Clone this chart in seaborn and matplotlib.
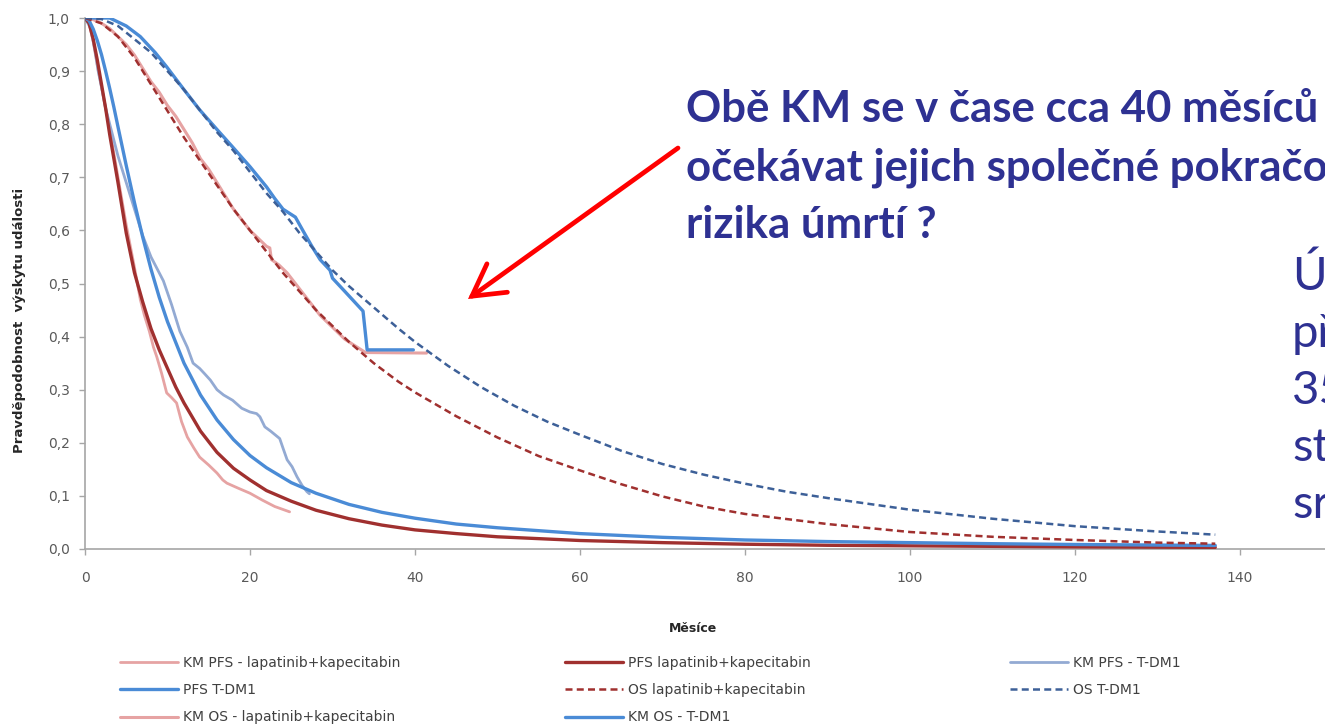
import matplotlib
matplotlib.use("Agg")
import matplotlib.pyplot as plt
import seaborn as sns
import pandas as pd

# ---- data (months, probability) ----
t_km_pfs_lap = [0, 0.5, 1, 1.5, 2, 2.5, 3, 3.5, 4, 4.5, 5, 5.5, 6, 6.7, 7.2, 7.8, 8.3, 8.7, 9.3, 9.9,
                10.5, 11.1, 11.7, 12.4, 13.2, 13.9, 15, 16, 16.7, 17.2, 18.5, 20, 21.5, 23, 24.8]
s_km_pfs_lap = [1, 0.99, 0.955, 0.91, 0.87, 0.83, 0.79, 0.745, 0.7, 0.655, 0.61, 0.57, 0.53, 0.47, 0.44,
                0.41, 0.38, 0.362, 0.33, 0.294, 0.285, 0.275, 0.24, 0.211, 0.19, 0.173, 0.158, 0.143,
                0.13, 0.124, 0.115, 0.105, 0.092, 0.08, 0.07]

t_pfs_lap = [0, 0.5, 1, 1.5, 2, 2.5, 3, 3.5, 4, 5, 6, 7, 8, 9, 10, 11, 12, 14, 16, 18, 20, 22, 25, 28,
             32, 36, 40, 45, 50, 60, 70, 80, 90, 100, 110, 120, 137]
s_pfs_lap = [1, 0.99, 0.96, 0.92, 0.875, 0.83, 0.78, 0.735, 0.69, 0.595, 0.52, 0.465, 0.415, 0.375,
             0.34, 0.305, 0.275, 0.222, 0.182, 0.152, 0.13, 0.11, 0.09, 0.073, 0.057, 0.045, 0.036,
             0.029, 0.023, 0.016, 0.012, 0.009, 0.007, 0.006, 0.005, 0.004, 0.003]

t_km_pfs_tdm1 = [0, 0.7, 1.2, 1.6, 2, 2.5, 3, 3.5, 4, 5, 6, 7, 8, 9, 9.5, 10.5, 11.5, 12.4, 13.1, 13.9,
                 14.5, 15.2, 16, 16.8, 17.9, 19, 20, 20.8, 21.2, 21.8, 22.5, 23.6, 24, 24.5, 25.1,
                 25.7, 26.3, 26.9, 27.2]
s_km_pfs_tdm1 = [1, 0.98, 0.94, 0.9, 0.87, 0.83, 0.8, 0.77, 0.74, 0.69, 0.64, 0.59, 0.55, 0.52, 0.505,
                 0.46, 0.41, 0.38, 0.35, 0.34, 0.33, 0.318, 0.3, 0.29, 0.28, 0.265, 0.258, 0.255,
                 0.249, 0.23, 0.222, 0.208, 0.19, 0.168, 0.155, 0.136, 0.12, 0.108, 0.104]

t_pfs_tdm1 = [0, 0.5, 1, 1.5, 2, 2.5, 3, 3.5, 4, 5, 6, 7, 8, 9, 10, 12, 14, 16, 18, 20, 22, 25, 28, 32,
              36, 40, 45, 50, 60, 70, 80, 90, 100, 110, 120, 137]
s_pfs_tdm1 = [1, 0.995, 0.979, 0.957, 0.931, 0.9, 0.867, 0.832, 0.795, 0.722, 0.652, 0.587, 0.527,
              0.474, 0.428, 0.35, 0.29, 0.243, 0.206, 0.176, 0.153, 0.125, 0.105, 0.084, 0.069, 0.058,
              0.047, 0.04, 0.029, 0.022, 0.017, 0.014, 0.012, 0.01, 0.0085, 0.0067]

t_os_lap = [0, 2, 4, 6, 8, 10, 12, 14, 16, 18, 20, 22, 24, 26, 28, 30, 32, 35, 38, 40, 45, 50, 55, 60,
            65, 70, 75, 80, 90, 100, 110, 120, 130, 137]
s_os_lap = [1, 0.99, 0.965, 0.925, 0.875, 0.825, 0.775, 0.73, 0.685, 0.64, 0.6, 0.56, 0.52, 0.485,
            0.45, 0.42, 0.39, 0.35, 0.315, 0.295, 0.25, 0.21, 0.175, 0.148, 0.122, 0.099, 0.08, 0.066,
            0.047, 0.032, 0.023, 0.017, 0.012, 0.01]

t_os_tdm1 = [0, 2, 4, 6, 8, 10, 12, 14, 16, 18, 20, 22, 24, 26, 28, 30, 32, 35, 38, 40, 44, 48, 52, 56,
             60, 65, 70, 75, 80, 85, 90, 100, 110, 120, 130, 137]
s_os_tdm1 = [1, 0.998, 0.985, 0.96, 0.935, 0.9, 0.865, 0.825, 0.785, 0.75, 0.71, 0.67, 0.635, 0.595,
             0.56, 0.525, 0.495, 0.455, 0.415, 0.39, 0.345, 0.305, 0.27, 0.24, 0.215, 0.185, 0.16,
             0.14, 0.123, 0.108, 0.096, 0.074, 0.057, 0.043, 0.033, 0.027]

t_km_os_lap = [0, 1, 2, 3, 4, 5, 6, 7, 8, 9, 10, 11, 12, 13, 14, 15, 16, 17, 18, 19, 20, 21, 22, 22.4,
               22.6, 23.5, 24.5, 25.5, 26.5, 27.5, 28.5, 29.5, 30.5, 31.5, 32.5, 33.5, 34, 41.4]
s_km_os_lap = [1, 0.997, 0.99, 0.98, 0.965, 0.95, 0.93, 0.905, 0.88, 0.86, 0.835, 0.815, 0.79, 0.765,
               0.735, 0.715, 0.69, 0.665, 0.64, 0.62, 0.6, 0.585, 0.57, 0.567, 0.545, 0.535, 0.52,
               0.5, 0.48, 0.46, 0.44, 0.425, 0.41, 0.395, 0.385, 0.375, 0.37, 0.369]

t_km_os_tdm1 = [0, 3, 5, 6.7, 8.5, 9.9, 12, 13.9, 16, 17.9, 20, 22, 23, 24, 25.5, 26.4, 27.5, 28.5,
                29.7, 30, 31.5, 33.7, 34.2, 39.8]
s_km_os_tdm1 = [1, 1, 0.985, 0.965, 0.935, 0.908, 0.865, 0.827, 0.79, 0.757, 0.72, 0.682, 0.66, 0.64,
                0.625, 0.6, 0.57, 0.545, 0.525, 0.51, 0.485, 0.448, 0.375, 0.375]

labels = ["KM PFS - lapatinib+kapecitabin", "PFS lapatinib+kapecitabin", "KM PFS - T-DM1",
          "PFS T-DM1", "OS lapatinib+kapecitabin", "OS T-DM1",
          "KM OS - lapatinib+kapecitabin", "KM OS - T-DM1"]
x_ticks = [0, 20, 40, 60, 80, 100, 120, 140]
y_ticks = [0, 0.1, 0.2, 0.3, 0.4, 0.5, 0.6, 0.7, 0.8, 0.9, 1.0]

# ---- styling ----
pink = "#E6A3A3"
darkred = "#A0302F"
steel = "#93AAD3"
blue = "#4A8BD6"
navyblue = "#3D6098"
navy = "#2E3192"
dash = (0, (2.8, 1.7))

sns.set_style("white")
plt.rcParams["font.family"] = ["DejaVu Sans"]

W, H = 1325, 724
fig = plt.figure(figsize=(W / 100, H / 100), dpi=100)
ax = fig.add_axes([85 / W, (H - 549) / H, 151 * 8.25 / W, 531 / H])

series = [
    (t_km_pfs_lap, s_km_pfs_lap, labels[0], pink, "-", 2.0, 2),
    (t_pfs_lap, s_pfs_lap, labels[1], darkred, "-", 2.4, 3),
    (t_km_pfs_tdm1, s_km_pfs_tdm1, labels[2], steel, "-", 2.0, 2),
    (t_pfs_tdm1, s_pfs_tdm1, labels[3], blue, "-", 2.4, 3),
    (t_os_lap, s_os_lap, labels[4], darkred, dash, 1.8, 4),
    (t_os_tdm1, s_os_tdm1, labels[5], navyblue, dash, 1.8, 4),
    (t_km_os_lap, s_km_os_lap, labels[6], pink, "-", 2.2, 2),
    (t_km_os_tdm1, s_km_os_tdm1, labels[7], blue, "-", 2.4, 2),
]

handles = {}
for t, s, lab, col, ls, lw, z in series:
    df = pd.DataFrame({"t": t, "s": s})
    sns.lineplot(data=df, x="t", y="s", ax=ax, color=col, linestyle=ls, linewidth=lw,
                 estimator=None, sort=False, zorder=z, label=lab)
    handles[lab] = ax.get_lines()[-1]
if ax.get_legend() is not None:
    ax.get_legend().remove()

ax.set_xlim(0, 151)
ax.set_ylim(0, 1)
ax.set_xticks(x_ticks)
ax.set_yticks(y_ticks)
ax.set_xticklabels([str(v) for v in x_ticks])
ax.set_yticklabels([f"{v:.1f}".replace(".", ",") for v in y_ticks])
ax.tick_params(axis="both", direction="out", length=4, width=1, color="#A6A6A6",
               labelsize=10, labelcolor="#595959", pad=7)
ax.tick_params(axis="x", bottom=True, pad=12)
ax.tick_params(axis="y", left=True)
for side in ["top", "right"]:
    ax.spines[side].set_visible(False)
for side in ["left", "bottom"]:
    ax.spines[side].set_color("#A6A6A6")
    ax.spines[side].set_linewidth(1.2)
ax.set_xlabel("")
ax.set_ylabel("")

fig.text(693 / W, 1 - 628 / H, "Měsíce", ha="center", va="center", fontsize=9,
         fontweight="bold", color="#262626")
fig.text(20 / W, 1 - 320 / H, "Pravděpodobnost  výskytu události", ha="center", va="center",
         rotation=90, fontsize=9.5, fontweight="bold", color="#262626")

# legend: three fixed columns like the original
cols = [[labels[0], labels[3], labels[6]], [labels[1], labels[4], labels[7]], [labels[2], labels[5]]]
col_x = [120, 565, 1010]
for labs, x0 in zip(cols, col_x):
    leg = fig.legend([handles[l] for l in labs], labs, loc="upper left",
                     bbox_to_anchor=(x0 / W, 1 - 656 / H), frameon=False, borderpad=0,
                     borderaxespad=0, handlelength=4.2, handletextpad=0.35, labelspacing=0.95,
                     prop={"size": 10})
    for txt in leg.get_texts():
        txt.set_color("#404040")

# annotation text
fig.canvas.draw()
r = fig.canvas.get_renderer()
txt_family = ["Lato", "DejaVu Sans"]
bold_lines = ["Obě KM se v čase cca 40 měsíců", "očekávat jejich společné pokračo", "rizika úmrtí ?"]
probe = fig.text(0, 0, bold_lines[0], fontsize=26, fontweight="bold", family=txt_family)
fs = 26 * 632 / probe.get_window_extent(r).width
probe.remove()
for i, line in enumerate(bold_lines):
    fig.text(686 / W, 1 - (122 + 58 * i) / H, line, fontsize=fs, fontweight="bold",
             family=txt_family, color=navy, va="baseline", ha="left")

right_lines = ["Ús", "př", "35", "st", "sr"]
for i, line in enumerate(right_lines):
    fig.text(1292 / W, 1 - (290 + 57 * i) / H, line, fontsize=34, family=txt_family,
             color=navy, va="baseline", ha="left")

ax.annotate("", xy=(468, H - 299), xycoords="figure pixels", xytext=(678, H - 148),
            textcoords="figure pixels",
            arrowprops=dict(arrowstyle="->,head_length=0.8,head_width=0.45", color="#FF0000",
                            lw=3.4, mutation_scale=28, shrinkA=0, shrinkB=0,
                            joinstyle="miter", capstyle="round"))

fig.savefig("out.png", dpi=100)
